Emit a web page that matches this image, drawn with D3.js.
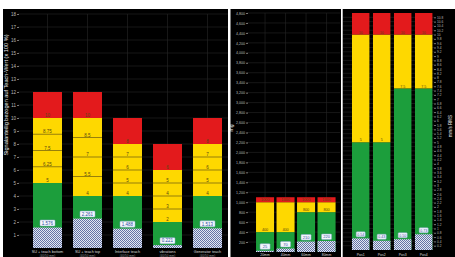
<!DOCTYPE html>
<html>
<head>
<meta charset="utf-8">
<script src="https://cdn.jsdelivr.net/npm/d3@7"></script>
<style>
  body { margin: 0; background: #fff; }
  svg { display: block; font-family: "Liberation Sans", Arial, sans-serif; }
</style>
</head>
<body>
<svg id="chart" width="455" height="257"></svg>
<script>
"use strict";

// left panel: signal share relative to teach value (x 100 %)
const leftCats = ["SU + teach bottom", "SU + teach top", "Interface teach", "vibrations", "Generator teach"];
const leftSub = ["(40/50 mm)", "(40/50 mm)", "(40/50 mm)", "(40/50 mm)", "(40/50 mm)"];
const leftGreen = [5, 4, 4, 2, 4];
const leftYellow = [10, 10, 8, 6, 8];
const leftRed = [12, 12, 10, 8, 10];
const leftSteps = [[6.25, 7.5, 8.75], [5.5, 7, 8.5], [5, 6, 7], [3, 4, 5], [5, 6, 7]];
const leftHatch = [1.576, 2.261, 1.488, 0.221, 1.513];
const leftTicks = d3.range(1, 19);

// middle panel: mg
const midCats = ["20mm", "40mm", "60mm", "80mm"];
const midGreen = [400, 400, 800, 800];
const midYellow = [1000, 1000, 1000, 1000];
const midRed = [1100, 1100, 1100, 1100];
const midHatch = [25, 70, 210, 220];
const midTicks = d3.range(200, 4801, 200);

// right panel: mm/s RMS
const rightCats = ["Pos1", "Pos2", "Pos3", "Pos4"];
const rightGreen = [5, 5, 7.5, 7.5];
const rightYellow = [10, 10, 10, 10];
const rightRed = [11, 11, 11, 11];
const rightHatch = [0.54, 0.43, 0.5, 0.73];
const rightTicks = d3.range(1, 55).map(function (i) { return +(i * 0.2).toFixed(1); });

const RED = "#e31a1c", YELLOW = "#fed800", GREEN = "#1c9e3c";
const GRID = "#262626";

var svg = d3.select("#chart");
svg.append("rect").attr("width", 455).attr("height", 257).attr("fill", "#fff");

// checker pattern for the measured value
var pat = svg.append("defs").append("pattern")
    .attr("id", "checker").attr("patternUnits", "userSpaceOnUse")
    .attr("width", 2).attr("height", 2);
pat.append("rect").attr("width", 2).attr("height", 2).attr("fill", "#e4e8f2");
pat.append("rect").attr("width", 1).attr("height", 1).attr("fill", "#6474a6");
pat.append("rect").attr("x", 1).attr("y", 1).attr("width", 1).attr("height", 1).attr("fill", "#6474a6");

// panel backgrounds
[[3, 9, 225, 248], [230.5, 9, 110.5, 248], [342.7, 9, 112.3, 248]].forEach(function (p) {
    svg.append("rect").attr("x", p[0]).attr("y", p[1]).attr("width", p[2]).attr("height", p[3]).attr("fill", "#000");
});

function drawPanel(cfg) {
    var x = d3.scaleBand().domain(cfg.cats).range(cfg.xr)
        .paddingInner(cfg.pad).paddingOuter(cfg.pad / 2);
    var y = d3.scaleLinear().domain(cfg.yd).range(cfg.yr);
    var g = svg.append("g");

    // grid
    g.selectAll(".hg").data(cfg.ticks).enter().append("line")
        .attr("x1", cfg.gx[0]).attr("x2", cfg.gx[1])
        .attr("y1", function (d) { return y(d); }).attr("y2", function (d) { return y(d); })
        .attr("stroke", GRID).attr("stroke-width", 0.6);
    g.selectAll(".vg").data(cfg.cats).enter().append("line")
        .attr("x1", function (d) { return x(d) + x.bandwidth() / 2; })
        .attr("x2", function (d) { return x(d) + x.bandwidth() / 2; })
        .attr("y1", cfg.yr[1]).attr("y2", cfg.yr[0])
        .attr("stroke", GRID).attr("stroke-width", 0.6);

    // axis
    var axis = (cfg.right ? d3.axisRight(y) : d3.axisLeft(y))
        .tickValues(cfg.ticks).tickSize(2).tickPadding(1).tickFormat(cfg.fmt);
    var ax = g.append("g").attr("transform", "translate(" + cfg.ax + ",0)").call(axis);
    ax.select(".domain").remove();
    ax.selectAll(".tick line").attr("stroke", "#777");
    ax.selectAll(".tick text").attr("fill", "#bbb").style("font-size", cfg.tfs + "px");

    cfg.cats.forEach(function (c, i) {
        var bx = x(c), bw = x.bandwidth();
        var segs = [[0, cfg.green[i], GREEN], [cfg.green[i], cfg.yellow[i], YELLOW], [cfg.yellow[i], cfg.red[i], RED]];
        segs.forEach(function (s) {
            g.append("rect").attr("x", bx).attr("width", bw)
                .attr("y", y(s[1])).attr("height", y(s[0]) - y(s[1])).attr("fill", s[2]);
        });
        var lines = [cfg.green[i]].concat(cfg.steps ? cfg.steps[i] : []).concat([cfg.yellow[i]]);
        lines.forEach(function (v, k) {
            if (k > 0 && k < lines.length - 1) {
                g.append("line").attr("x1", bx).attr("x2", bx + bw)
                    .attr("y1", y(v)).attr("y2", y(v)).attr("stroke", "#6b5a10").attr("stroke-width", 0.7);
            }
            g.append("text").attr("x", bx + bw / 2).attr("y", y(v) - 0.8)
                .attr("text-anchor", "middle").attr("fill", "#5a4a10")
                .style("font-size", cfg.lfs + "px").text(cfg.lfmt(v));
        });
        // measured value
        g.append("rect").attr("x", bx).attr("width", bw)
            .attr("y", y(cfg.hatch[i])).attr("height", y(0) - y(cfg.hatch[i]))
            .attr("fill", "url(#checker)");
        var lw = cfg.boxw, lh = cfg.boxh;
        var ly = y(cfg.hatch[i]) - 1.5 - lh;
        g.append("rect").attr("x", bx + bw / 2 - lw / 2).attr("y", ly)
            .attr("width", lw).attr("height", lh).attr("rx", 0.8)
            .attr("fill", "#f4f7fc").attr("stroke", "#8fa6d6").attr("stroke-width", 0.5);
        g.append("text").attr("x", bx + bw / 2).attr("y", ly + lh - 1.2)
            .attr("text-anchor", "middle").attr("fill", "#2c4c9c")
            .style("font-size", (lh - 1.5) + "px").text(cfg.hfmt(cfg.hatch[i]));
        // category labels
        g.append("text").attr("x", bx + bw / 2).attr("y", cfg.cy)
            .attr("text-anchor", "middle").attr("fill", "#ddd")
            .style("font-size", cfg.cfs + "px").text(c);
        if (cfg.sub) {
            g.append("text").attr("x", bx + bw / 2).attr("y", cfg.cy + 4)
                .attr("text-anchor", "middle").attr("fill", "#999")
                .style("font-size", (cfg.cfs - 0.8) + "px").text(cfg.sub[i]);
        }
    });

    g.append("text").attr("transform", "translate(" + cfg.tx + "," + cfg.ty + ") rotate(-90)")
        .attr("text-anchor", "middle").attr("fill", "#eee")
        .style("font-size", cfg.tfs2 + "px").text(cfg.title);
}

drawPanel({
    cats: leftCats, sub: leftSub, green: leftGreen, yellow: leftYellow, red: leftRed,
    steps: leftSteps, hatch: leftHatch, ticks: leftTicks,
    xr: [27.5, 227.5], pad: 0.275, yd: [0, 18], yr: [248, 14], gx: [18, 228],
    ax: 19, tfs: 4.5, fmt: d3.format("d"), lfs: 4.5, lfmt: function (v) { return String(v); },
    boxw: 15, boxh: 6, hfmt: d3.format(".3f"), cy: 252.5, cfs: 3.8,
    tx: 8, ty: 95, tfs2: 5.6, title: "Signalanteilig bezogen auf Teach-Wert (x 100 %)"
});

drawPanel({
    cats: midCats, green: midGreen, yellow: midYellow, red: midRed,
    hatch: midHatch, ticks: midTicks,
    xr: [254.8, 336.8], pad: 0.12, yd: [0, 4800], yr: [252, 13], gx: [247, 340],
    ax: 248, tfs: 3.6, fmt: d3.format(","), lfs: 3.8, lfmt: d3.format("d"),
    boxw: 10, boxh: 5.5, hfmt: d3.format("d"), cy: 256, cfs: 3.4,
    tx: 233, ty: 128, tfs2: 5, title: "mg"
});

drawPanel({
    cats: rightCats, green: rightGreen, yellow: rightYellow, red: rightRed,
    hatch: rightHatch, ticks: rightTicks, right: true,
    xr: [350.2, 434.2], pad: 0.17, yd: [0, 11], yr: [250, 13], gx: [343, 434],
    ax: 434, tfs: 3.2, fmt: function (d) { return String(d); }, lfs: 3.6, lfmt: function (v) { return String(v); },
    boxw: 9, boxh: 5, hfmt: d3.format(".2f"), cy: 256, cfs: 3.4,
    tx: 452, ty: 126, tfs2: 4.5, title: "mm/s RMS"
});
</script>
</body>
</html>
